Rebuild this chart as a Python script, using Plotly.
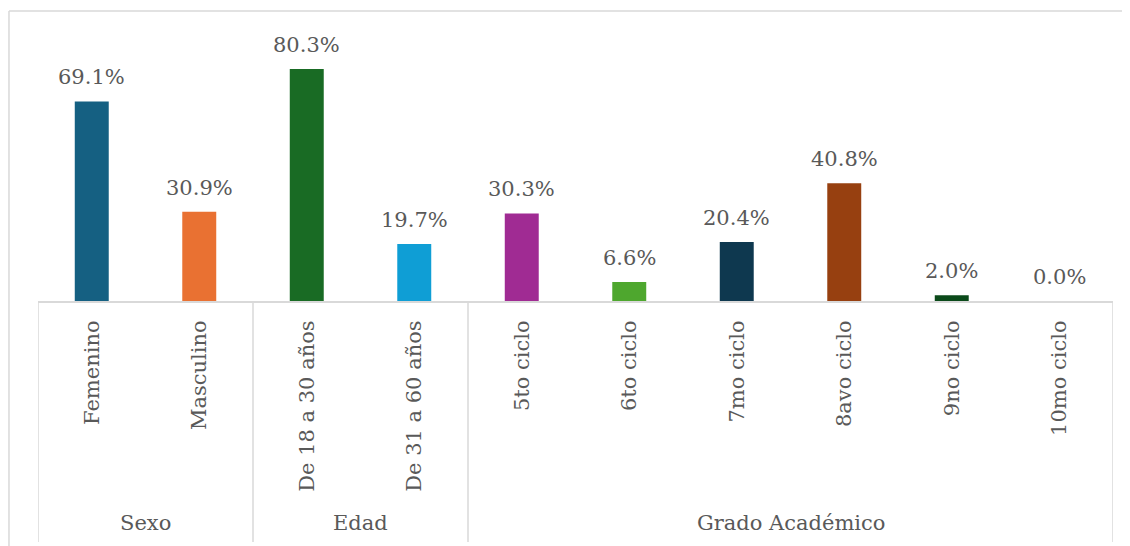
import plotly.graph_objects as go

categories = ["Femenino", "Masculino", "De 18 a 30 años", "De 31 a 60 años",
              "5to ciclo", "6to ciclo", "7mo ciclo", "8avo ciclo", "9no ciclo", "10mo ciclo"]
values = [69.1, 30.9, 80.3, 19.7, 30.3, 6.6, 20.4, 40.8, 2.0, 0.0]
groups = ["Sexo", "Edad", "Grado Académico"]
group_sizes = [2, 2, 6]
colors = ["#156082", "#E97132", "#196B24", "#0F9ED5", "#A02B93",
          "#4EA72E", "#0E384F", "#974010", "#0B4A1A", "#0B4A1A"]

FONT = "DejaVu Serif"
TXT = "#595959"
LINE = "#D9D9D9"

fig = go.Figure()
fig.add_trace(go.Bar(x=categories, y=values, marker=dict(color=colors, line=dict(width=0)),
                     hoverinfo="x+y"))

annotations = []
for c, v in zip(categories, values):
    annotations.append(dict(x=c, y=v, xref="x", yref="y", text=f"{v:.1f}%",
                            showarrow=False, yanchor="bottom", yshift=10,
                            font=dict(family=FONT, size=21, color=TXT)))

shapes = []
start = 0
bounds = [-0.5]
for g, n in zip(groups, group_sizes):
    mid = start + (n - 1) / 2
    annotations.append(dict(x=mid, y=-0.854, xref="x", yref="paper", text=g,
                            showarrow=False, yanchor="middle",
                            font=dict(family=FONT, size=21, color=TXT)))
    start += n
    bounds.append(start - 0.5)
for b in bounds:
    shapes.append(dict(type="line", xref="x", yref="paper", x0=b, x1=b, y0=0, y1=-0.927,
                       line=dict(color=LINE, width=1.5)))
# outer chart frame
shapes.append(dict(type="line", xref="paper", yref="paper", x0=-0.027, x1=1.1, y0=1.115, y1=1.115,
                   line=dict(color=LINE, width=1.5)))
shapes.append(dict(type="line", xref="paper", yref="paper", x0=-0.027, x1=-0.027, y0=1.115, y1=-1.0,
                   line=dict(color=LINE, width=1.5)))

fig.update_layout(
    width=1122, height=538,
    margin=dict(l=30, r=17, t=33, b=245),
    paper_bgcolor="white", plot_bgcolor="white",
    bargap=0.684, showlegend=False,
    annotations=annotations, shapes=shapes,
    xaxis=dict(type="category", showline=True, linecolor=LINE, linewidth=2,
               tickangle=-90, ticks="", ticklabelstandoff=9,
               tickfont=dict(family=FONT, size=21, color=TXT), showgrid=False,
               range=[-0.5, 9.5], fixedrange=True),
    yaxis=dict(range=[0, 90], visible=False, showgrid=False, fixedrange=True),
)

fig.write_html("out.html")
